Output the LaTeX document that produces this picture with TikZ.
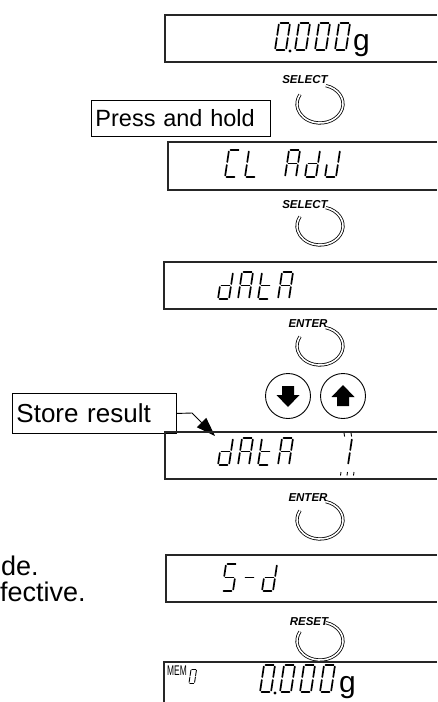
\documentclass[tikz,border=0pt]{standalone}
\usepackage{fontspec}
\setmainfont{Liberation Sans}
\usetikzlibrary{arrows.meta}

% segments of one 7-segment character (cell 11 x 27, origin bottom left)
\def\sega{(1.5,27) -- (9.5,27)}
\def\segb{(11,25.5) -- (11,15)}
\def\segc{(11,12) -- (11,1.5)}
\def\segd{(1.5,0) -- (9.5,0)}
\def\sege{(0,1.5) -- (0,12)}
\def\segf{(0,15) -- (0,25.5)}
\def\segg{(1.5,13.5) -- (9.5,13.5)}
\newcommand{\segchar}[4][1]{%
  \begin{scope}[shift={(#2,#3)}, scale=#1, xslant=0.15]
    \foreach \s in {#4} {\draw[segline] \csname seg\s\endcsname;}
  \end{scope}}

\begin{document}
\begin{tikzpicture}[x=1pt, y=1pt,
                panel/.style={line width=1.3pt, draw=black!85},
                segline/.style={line width=1.7pt, line cap=round},
                keyring/.style={double, double distance=1.6pt, line width=0.8pt},
                keylabel/.style={font=\fontsize{11.5}{11.5}\selectfont\bfseries\itshape, inner sep=0pt},
                arrowkey/.style={circle, draw, line width=0.9pt, minimum size=45pt, inner sep=0pt},
                labelbox/.style={draw, line width=0.9pt, anchor=north west, align=left, inner xsep=4pt},
                sidetext/.style={anchor=base west, inner sep=0pt, font=\fontsize{27}{27}\selectfont},
                unit/.style={anchor=base west, inner sep=0pt, font=\fontsize{30}{30}\selectfont},
            ]
            \useasboundingbox (0,0) rectangle (437,-702);

            % Display 1 (0.000g)
            \draw[panel] (437,-15) -| (165,-62) -- (437,-62);
            \foreach \x in {275,295,315,335} {\segchar{\x}{-50}{a,b,c,d,e,f}}
            \fill (290,-51) circle (1.7);
            \node[unit] (g1) at (353,-50) {g};

            % SELECT (1)
            \node[keylabel] (sel1) at (305,-80) {SELECT};
            \draw[keyring] (320,-104) ++(75:23 and 19) arc[start angle=75, end angle=-210, x radius=23, y radius=19];
            \node[labelbox, text width=171pt, minimum height=36pt, font=\fontsize{23.5}{23.5}\selectfont] (hold) at (91,-100) {Press and hold};

            % Display 2 (CL AdJ)
            \draw[panel] (437,-142) -| (168,-190) -- (437,-190);
            \segchar{225}{-177}{a,d,e,f}
            \segchar{245}{-177}{d,e,f}
            \segchar{285}{-177}{a,b,c,e,f,g}
            \segchar{305}{-177}{b,c,d,e,g}
            \segchar{325}{-177}{b,c,d,e}

            % SELECT (2)
            \node[keylabel] (sel2) at (305,-205) {SELECT};
            \draw[keyring] (320,-226) ++(75:23 and 19) arc[start angle=75, end angle=-210, x radius=23, y radius=19];

            % Display 3 (dAtA)
            \draw[panel] (437,-262) -| (164,-309) -- (437,-309);
            \segchar{218}{-299}{b,c,d,e,g}
            \segchar{238}{-299}{a,b,c,e,f,g}
            \segchar{258}{-299}{d,e,f,g}
            \segchar{278}{-299}{a,b,c,e,f,g}

            % ENTER (1) and arrow keys
            \node[keylabel] (ent1) at (308,-324) {ENTER};
            \draw[keyring] (320,-346) ++(75:23 and 19) arc[start angle=75, end angle=-210, x radius=23, y radius=19];
            \node[arrowkey] (down) at (288,-396) {};
            \node[arrowkey] (up) at (343,-396) {};
            \fill (down.center) ++(-6,10) -- ++(12,0) -- ++(0,-9) -- ++(5.5,0) -- ++(-11.5,-12) -- ++(-11.5,12) -- ++(5.5,0) -- cycle;
            \fill (up.center) ++(-6,-10) -- ++(12,0) -- ++(0,9) -- ++(5.5,0) -- ++(-11.5,12) -- ++(-11.5,-12) -- ++(5.5,0) -- cycle;

            % Store result
            \node[labelbox, text width=156pt, minimum height=40pt, font=\fontsize{26}{26}\selectfont] (store) at (12,-393) {Store result};
            \coordinate (bend) at (192,-413);
            \coordinate (tip) at (215,-436);
            \draw[line width=0.9pt, -{Triangle[length=19pt, width=13pt]}] (store.east) -- (bend) -- (tip);

            % Display 4 (dAtA 1)
            \draw[panel] (437,-432) -| (165,-479) -- (437,-479);
            \segchar{218}{-465}{b,c,d,e,g}
            \segchar{238}{-465}{a,b,c,e,f,g}
            \segchar{258}{-465}{d,e,f,g}
            \segchar{278}{-465}{a,b,c,e,f,g}
            \segchar{337}{-465}{b,c}
            \foreach \x in {344,351} {\draw[line width=0.9pt] (\x,-433) -- (\x+0.6,-436.5);}
            \foreach \x in {341,347.5,354} {\draw[line width=0.9pt] (\x,-472) -- (\x-0.5,-475.5);}

            % ENTER (2)
            \node[keylabel] (ent2) at (308,-498) {ENTER};
            \draw[keyring] (320,-520) ++(75:23 and 19) arc[start angle=75, end angle=-210, x radius=23, y radius=19];

            % Display 5 (5-d) and side text
            \draw[panel] (437,-555) -| (166,-602) -- (437,-602);
            \segchar{222}{-591}{a,c,d,f,g}
            \segchar{242}{-591}{g}
            \segchar{262}{-591}{b,c,d,e,g}
            \node[sidetext] (de) at (1,-575) {de.};
            \node[sidetext] (fect) at (0,-601) {fective.};

            % RESET
            \node[keylabel] (res) at (309,-622) {RESET};
            \draw[keyring] (320,-641) ++(75:23 and 19) arc[start angle=75, end angle=-210, x radius=23, y radius=19];

            % Display 6 (MEM 0  0.000g)
            \draw[panel] (437,-662) -| (164,-702);
            \node[anchor=base west, inner sep=0pt, font=\fontsize{14}{14}\selectfont] (mem) at (167,-675) {\scalebox{0.6}[1]{MEM}};
            \begin{scope}[segline/.style={line width=0.9pt, line cap=round}]
                \segchar[0.5]{189}{-683}{a,b,c,d,e,f}
            \end{scope}
            \foreach \x in {260,280,300,320} {\segchar{\x}{-692}{a,b,c,d,e,f}}
            \fill (275,-693) circle (1.7);
            \node[unit] (g2) at (339,-692) {g};
\end{tikzpicture}
\end{document}
